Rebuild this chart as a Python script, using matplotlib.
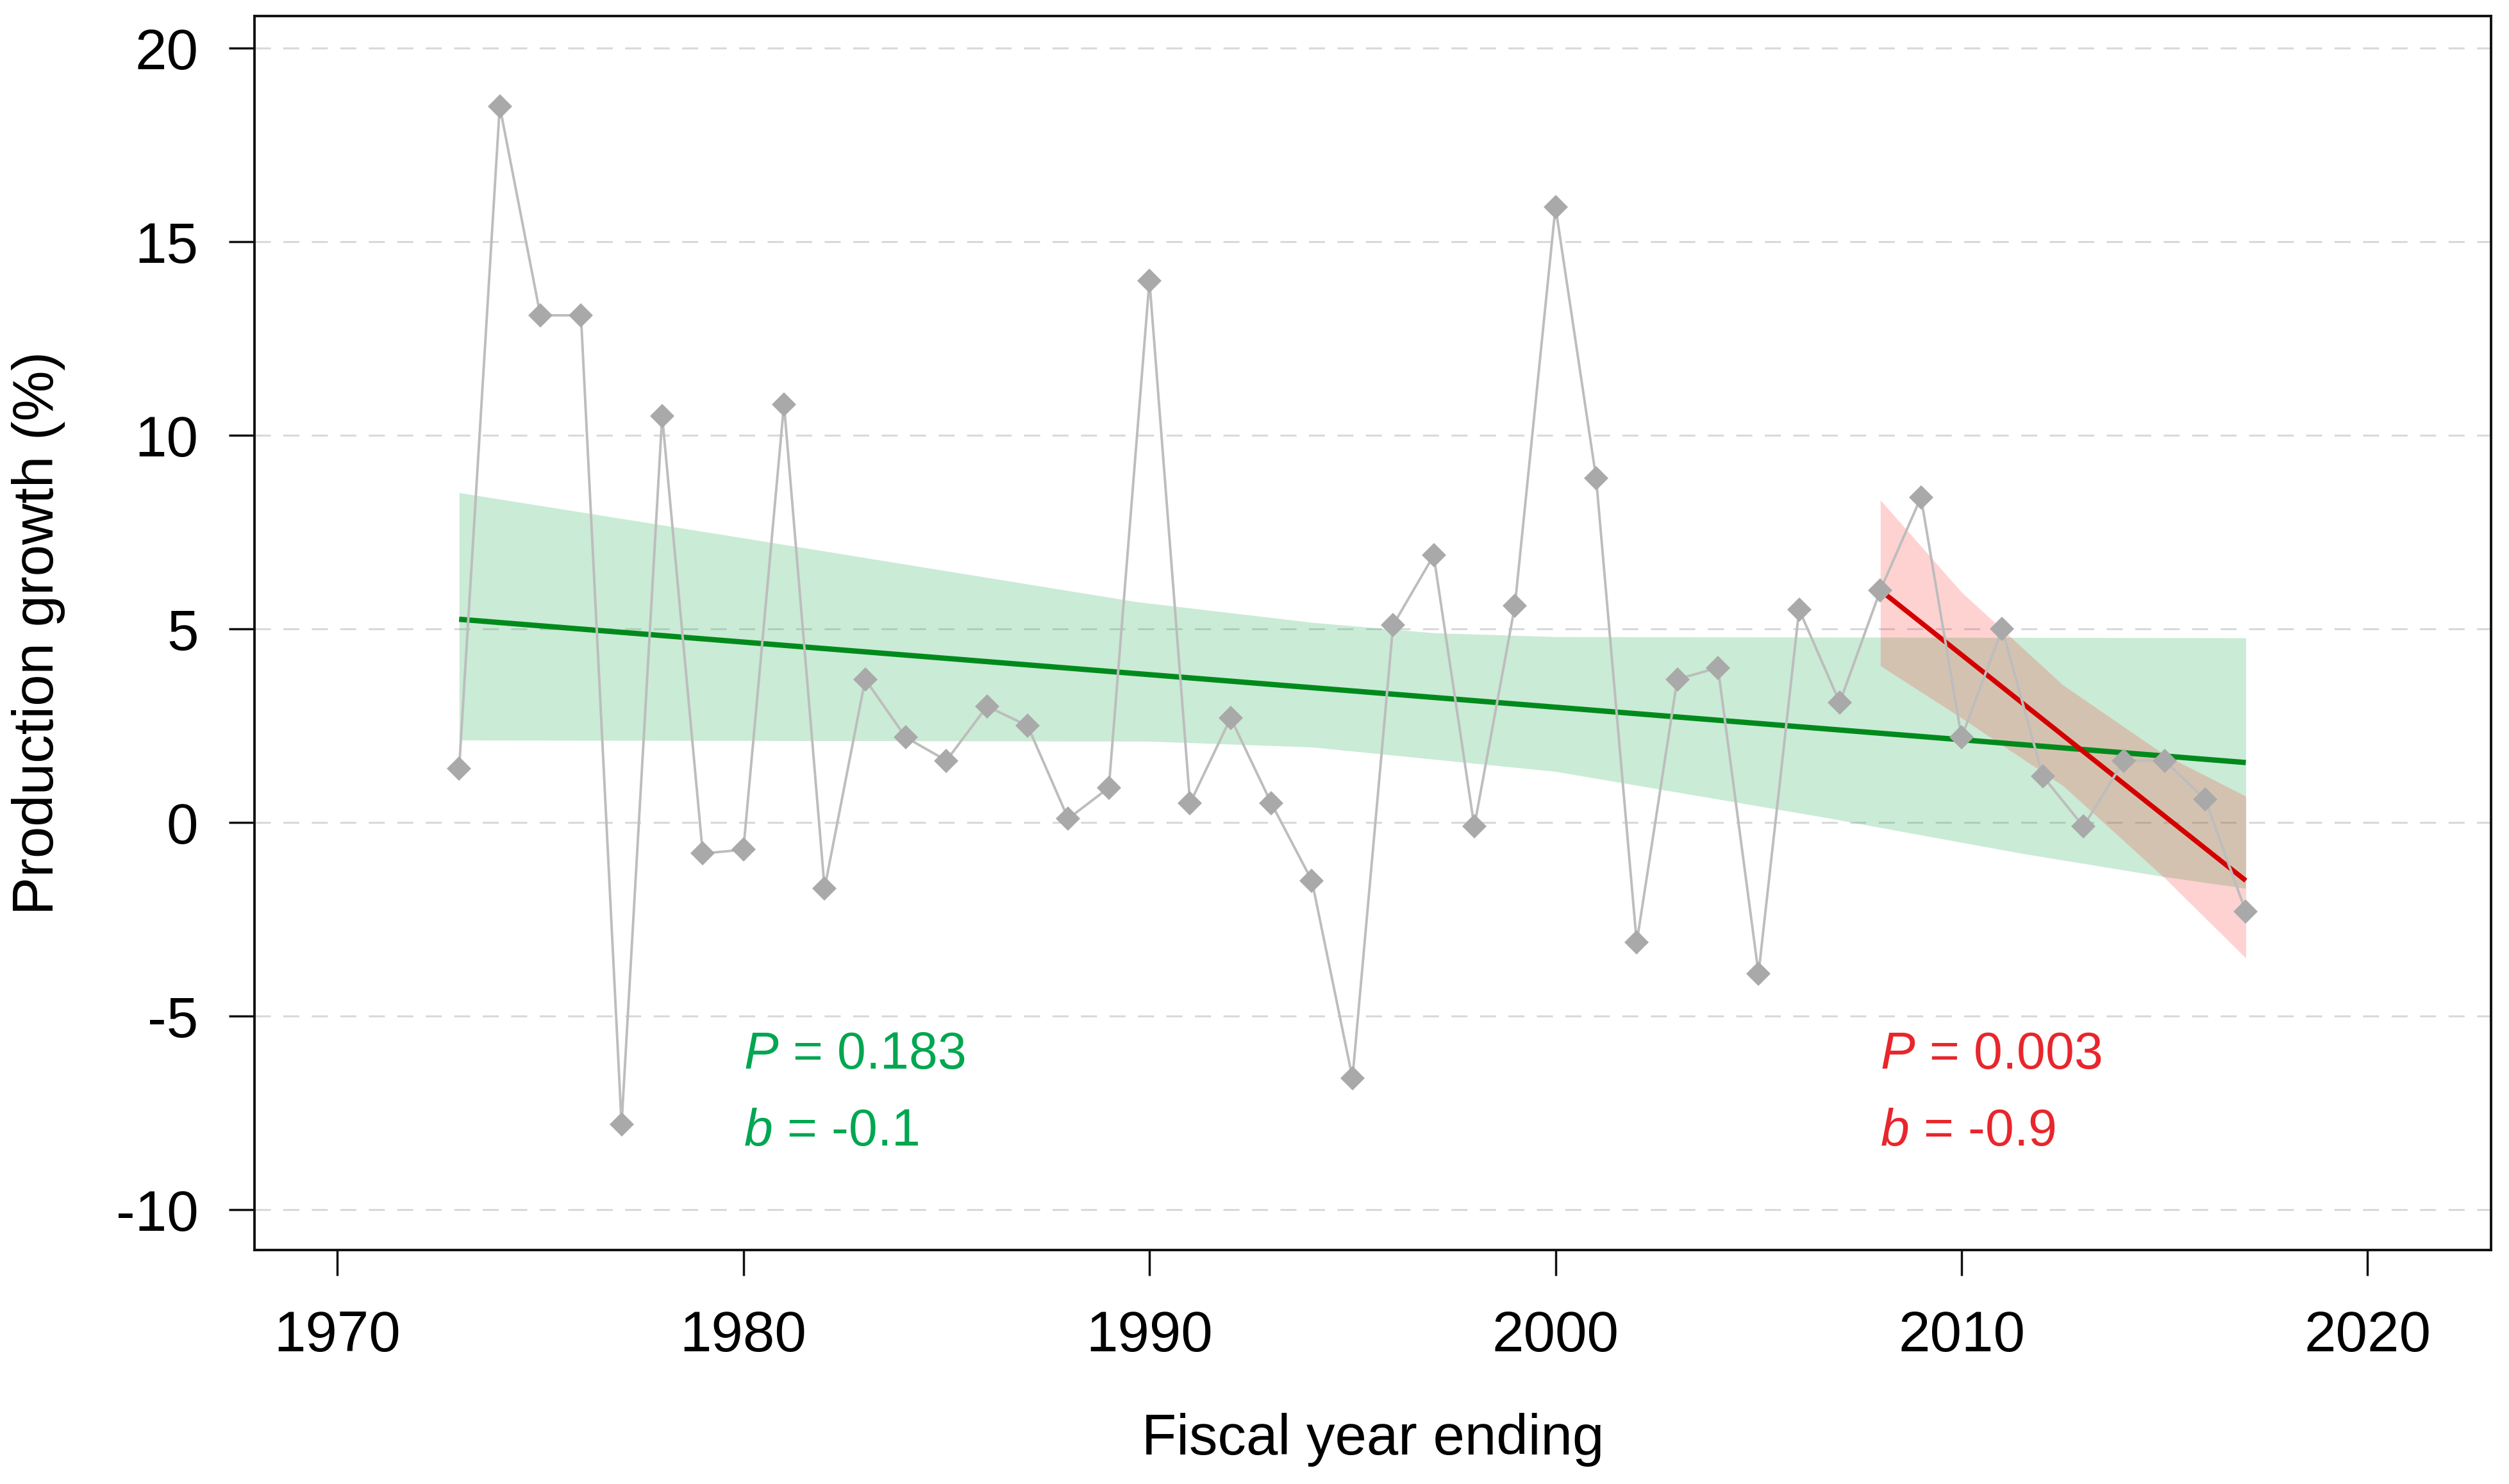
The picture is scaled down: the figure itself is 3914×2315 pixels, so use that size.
import numpy as np
import matplotlib
matplotlib.use("Agg")
import matplotlib.pyplot as plt

plt.rcParams['font.family'] = ['Liberation Sans', 'DejaVu Sans']
plt.rcParams['mathtext.fontset'] = 'custom'
plt.rcParams['mathtext.rm'] = 'Liberation Sans'
plt.rcParams['mathtext.it'] = 'Liberation Sans:italic'
plt.rcParams['lines.scale_dashes'] = False
plt.rcParams['axes.unicode_minus'] = False

# production growth (%) per fiscal year
years = list(range(1973, 2018))
growth = [1.4, 18.5, 13.1, 13.1, -7.8, 10.5, -0.8, -0.7, 10.8, -1.7,
          3.7, 2.2, 1.6, 3.0, 2.5, 0.1, 0.9, 14.0, 0.5, 2.7,
          0.5, -1.5, -6.6, 5.1, 6.9, -0.1, 5.6, 15.9, 8.9, -3.1,
          3.7, 4.0, -3.9, 5.5, 3.1, 6.0, 8.4, 2.2, 5.0, 1.2,
          -0.1, 1.6, 1.6, 0.6, -2.3]

# long-term trend (green) and its band
trend_x = [1973, 2017]
trend_y = [5.25, 1.55]
band_up_x = [1973, 1980, 1989.7, 1994, 1997, 2000, 2017]
band_up_y = [8.52, 7.35, 5.7, 5.17, 4.9, 4.8, 4.77]
band_lo_x = [1973, 1990, 1994, 2000, 2006.6, 2011.5, 2015, 2017]
band_lo_y = [2.13, 2.1, 1.95, 1.32, 0.14, -0.8, -1.4, -1.7]

# recent trend (red) and its band
recent_x = [2008, 2017]
recent_y = [6.0, -1.5]
rband_x = [2008, 2010, 2012.5, 2015, 2017]
rband_up = [8.33, 5.95, 3.55, 1.75, 0.68]
rband_lo = [4.05, 2.7, 0.95, -1.43, -3.5]

yticks = [-10, -5, 0, 5, 10, 15, 20]
xticks = [1970, 1980, 1990, 2000, 2010, 2020]

fig = plt.figure(figsize=(39.14, 23.15), dpi=100)
ax = fig.add_axes([0.10143, 0.15767, 0.89142, 0.83153])

for yt in yticks:
    ax.axhline(yt, color='#d9d9d9', lw=2.2, linestyle=(0, (18, 14)), zorder=0)

# bands
grid_x = np.linspace(1973, 2017, 400)
ax.fill_between(grid_x, np.interp(grid_x, band_lo_x, band_lo_y),
                np.interp(grid_x, band_up_x, band_up_y),
                color='#2db35d', alpha=0.25, lw=0, zorder=1)
rx = np.linspace(2008, 2017, 200)
ax.fill_between(rx, np.interp(rx, rband_x, rband_lo), np.interp(rx, rband_x, rband_up),
                color='#ff2020', alpha=0.2, lw=0, zorder=2)

ax.plot(trend_x, trend_y, color='#008a1c', lw=6, solid_capstyle='butt', zorder=3)
ax.plot(recent_x, recent_y, color='#d40000', lw=5.5, solid_capstyle='butt', zorder=3)

ax.plot(years, growth, color='#bdbdbd', lw=2.8, zorder=4)
ax.plot(years, growth, 'D', color='#a9a9a9', markersize=19, markeredgewidth=0, zorder=5)

ax.text(1980, -6, r'$P$ = 0.183', color='#00a651', fontsize=58, va='center', ha='left')
ax.text(1980, -8, r'$b$ = -0.1', color='#00a651', fontsize=58, va='center', ha='left')
ax.text(2008, -6, r'$P$ = 0.003', color='#e8262c', fontsize=58, va='center', ha='left')
ax.text(2008, -8, r'$b$ = -0.9', color='#e8262c', fontsize=58, va='center', ha='left')

ax.set_xlim(1967.96, 2023.04)
ax.set_ylim(-11.04, 20.83)
ax.set_xticks(xticks)
ax.set_yticks(yticks)
ax.tick_params(axis='both', direction='out', length=29, width=2.5, labelsize=64, color='#111111')
ax.tick_params(axis='x', pad=38)
ax.tick_params(axis='y', pad=34)
for sp in ax.spines.values():
    sp.set_linewidth(2.8)
    sp.set_color('#111111')

ax.set_xlabel('Fiscal year ending', fontsize=64, va='center')
ax.xaxis.set_label_coords(0.5, -0.154)
ax.set_ylabel('Production growth (%)', fontsize=64, va='center')
ax.yaxis.set_label_coords(-0.0965, 0.5)

fig.savefig('out.png', dpi=100)
